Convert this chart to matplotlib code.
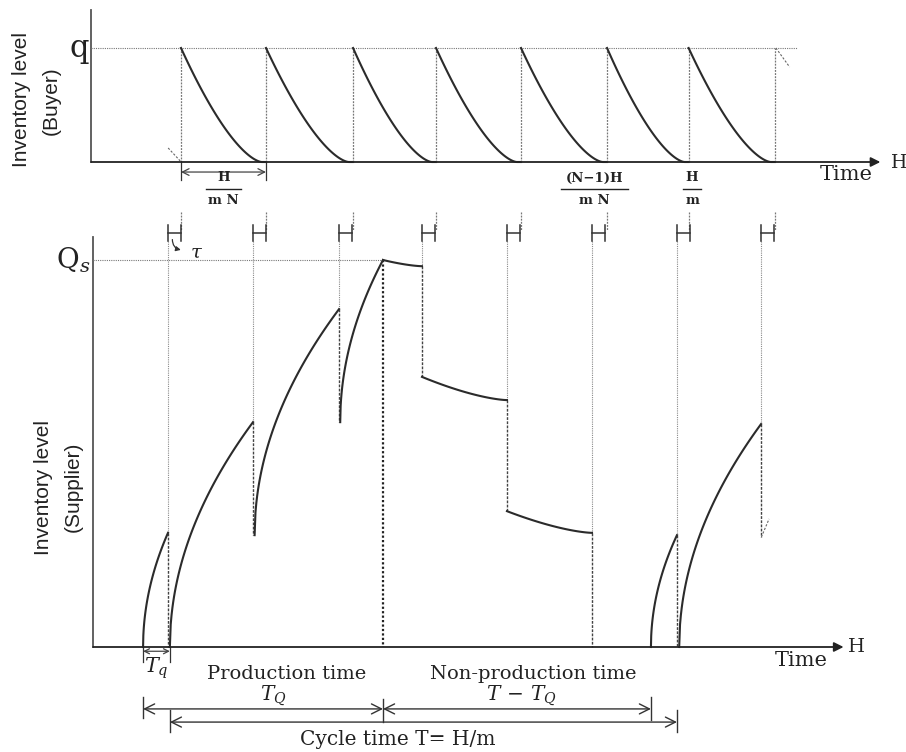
import matplotlib.pyplot as plt
import numpy as np

plt.rcParams['mathtext.fontset'] = 'dejavuserif'

# time axis in units of one buyer cycle H/(mN); levels normalised (q = 1, Qs = 1)
buyer_starts = [1.0, 1.993, 3.010, 3.979, 4.972, 5.977, 6.93, 7.939]
supplier_deliv = [0.848, 1.841, 2.846, 3.815, 4.808, 5.801, 6.794, 7.776]
drop_from = [0.295, 0.581, 0.873, 0.984, 0.638, 0.295, 0.289, 0.576]
drop_to = [0.0, 0.289, 0.581, 0.698, 0.351, 0.0, 0.0, 0.284]

# production (rising) segments
prod_t0 = [0.557, 0.87, 1.86, 2.86, 6.49, 6.82]
prod_t1 = [0.848, 1.841, 2.846, 3.36, 6.794, 7.776]
prod_y0 = [0.0, 0.0, 0.289, 0.581, 0.0, 0.0]
prod_y1 = [0.295, 0.581, 0.873, 1.0, 0.289, 0.576]

# non-production (slowly falling) segments
hold_t0 = [3.36, 3.815, 4.808]
hold_t1 = [3.815, 4.808, 5.801]
hold_y0 = [1.0, 0.698, 0.351]
hold_y1 = [0.984, 0.638, 0.295]

prod_end = 3.36
tau = 0.15
q_line_end = 8.196

W, H = 906, 752
X0, XS = 95.4, 85.6  # pixel of t=0, pixels per time unit
xlim = (-X0 / XS, (W - X0) / XS)

fig = plt.figure(figsize=(W / 100, H / 100), dpi=100)
# top panel: level 0 at y=162px, q at y=48px
axt = fig.add_axes([0, 0, 1, 1])
axt.set_xlim(*xlim)
axt.set_ylim(-(H - 162) / 114, 162 / 114)
# bottom panel: level 0 at y=647px, Qs at y=260px
axb = fig.add_axes([0, 0, 1, 1])
axb.set_xlim(*xlim)
axb.set_ylim(-(H - 647) / 387, 647 / 387)
for a in (axt, axb):
    a.axis('off')
    a.patch.set_alpha(0)

cur = '#2b2b2b'
axc = '#555555'
dot = '#777777'
txt = '#222222'
serif = 'DejaVu Serif'

# ---------- top panel (buyer) ----------
axt.plot([-0.051, -0.051], [0, 1.333], color=axc, lw=1.3)
axt.annotate('', xy=(9.17, 0), xytext=(-0.051, 0),
             arrowprops=dict(arrowstyle='-|>', color=txt, lw=1.3,
                             mutation_scale=14, shrinkA=0, shrinkB=0))
axt.plot([-0.051, q_line_end], [1, 1], color=dot, lw=0.8, ls=(0, (1, 1)))

for k, s in enumerate(buyer_starts):
    axt.plot([s, s], [0, 1], color=dot, lw=0.9, ls=(0, (1.5, 1)))
    axt.plot([s, s], [-0.44, -0.60], color=dot, lw=0.9, ls=(0, (1.5, 1)))
    if k + 1 < len(buyer_starts):
        e = buyer_starts[k + 1]
        u = np.linspace(0, 1, 100)
        lvl = np.clip(1 - u / 0.95, 0, None) ** 1.55
        axt.plot(s + u * (e - s), lvl, color=cur, lw=1.5)

axt.plot([0.850, 0.991], [0.123, 0.009], color='#666666', lw=0.8, ls=(0, (2, 1.5)))
axt.plot([7.95, 8.11], [1.0, 0.833], color='#666666', lw=0.8, ls=(0, (2, 1.5)))

# H/(mN) dimension
b0, b1 = buyer_starts[0], buyer_starts[1]
axt.plot([b0, b0], [0, -0.16], color='#333333', lw=0.9)
axt.plot([b1, b1], [0, -0.16], color='#333333', lw=0.9)
axt.annotate('', xy=(b0, -0.088), xytext=(b1, -0.088),
             arrowprops=dict(arrowstyle='<->', color='#444444', lw=0.9,
                             mutation_scale=12, shrinkA=0, shrinkB=0))


def frac(ax, x, num, den, half):
    ax.text(x, -0.14, num, ha='center', va='center', fontsize=9.5,
            family=serif, fontweight='bold', color=txt)
    ax.plot([x - half, x + half], [-0.237, -0.237], color=txt, lw=1.0)
    ax.text(x, -0.335, den, ha='center', va='center', fontsize=9.5,
            family=serif, fontweight='bold', color=txt)


frac(axt, (b0 + b1) / 2, 'H', 'm N', 0.2)
frac(axt, 5.83, '(N\u22121)H', 'm N', 0.39)
frac(axt, 6.97, 'H', 'm', 0.1)

axt.text(-0.08, 1.0, 'q', ha='right', va='center', fontsize=22, family=serif,
         color=txt)
axt.text(9.08, -0.11, 'Time', ha='right', va='center', fontsize=15,
         family=serif, color=txt)
axt.text(9.3, -0.01, 'H', ha='left', va='center', fontsize=13.5,
         family=serif, color=txt)
axt.text(-0.86, 0.55, 'Inventory level', rotation=90, ha='center',
         va='center', fontsize=15, family='Liberation Sans', color=txt)
axt.text(-0.51, 0.54, '(Buyer)', rotation=90, ha='center',
         va='center', fontsize=15, family='Liberation Sans', color=txt)

# ---------- bottom panel (supplier) ----------
axb.plot([-0.028, -0.028], [0, 1.059], color=axc, lw=1.3)
axb.annotate('', xy=(8.74, 0), xytext=(-0.028, 0),
             arrowprops=dict(arrowstyle='-|>', color=txt, lw=1.3,
                             mutation_scale=14, shrinkA=0, shrinkB=0))
axb.plot([-0.028, prod_end], [1, 1], color=dot, lw=0.8, ls=(0, (1, 1)))

for d, f, t in zip(supplier_deliv, drop_from, drop_to):
    axb.plot([d, d], [1.05, f], color='#8a8a8a', lw=0.8, ls=(0, (1, 1)))
    axb.plot([d, d], [f, t], color='#444444', lw=1.0, ls=(0, (2, 1)))
    # tau bracket
    axb.plot([d, d + tau], [1.07, 1.07], color='#333333', lw=1.1)
    axb.plot([d, d], [1.05, 1.09], color='#333333', lw=1.1)
    axb.plot([d + tau, d + tau], [1.05, 1.09], color='#333333', lw=1.1)

axb.plot([prod_end, prod_end], [1, 0], color=txt, lw=1.6, ls=(0, (1, 1)))

for t0, t1, y0, y1 in zip(prod_t0, prod_t1, prod_y0, prod_y1):
    u = np.linspace(0, 1, 100)
    axb.plot(t0 + u * (t1 - t0), y0 + (y1 - y0) * np.sqrt(u),
             color=cur, lw=1.5)
for t0, t1, y0, y1 in zip(hold_t0, hold_t1, hold_y0, hold_y1):
    u = np.linspace(0, 1, 100)
    axb.plot(t0 + u * (t1 - t0), y0 + (y1 - y0) * (1 - (1 - u) ** 1.5),
             color=cur, lw=1.5)

axb.plot([7.78, 7.87], [0.284, 0.331], color='#666666', lw=0.8, ls=(0, (2, 1.5)))

# tau label
axb.annotate('', xy=(1.03, 1.025), xytext=(0.9, 1.06),
             arrowprops=dict(arrowstyle='-|>', color='#333333', lw=0.9,
                             mutation_scale=7, connectionstyle='arc3,rad=0.5'))
axb.text(1.1, 1.02, r'$\tau$', ha='left', va='center', fontsize=14,
         color=txt)

axb.text(-0.06, 1.0, r'$\mathrm{Q}_{s}$', ha='right', va='center', fontsize=20,
         color=txt)
axb.text(8.56, -0.035, 'Time', ha='right', va='center', fontsize=15,
         family=serif, color=txt)
axb.text(8.79, 0.0, 'H', ha='left', va='center', fontsize=14,
         family=serif, color=txt)
axb.text(-0.61, 0.413, 'Inventory level', rotation=90, ha='center',
         va='center', fontsize=15, family='Liberation Sans', color=txt)
axb.text(-0.26, 0.413, '(Supplier)', rotation=90, ha='center',
         va='center', fontsize=15, family='Liberation Sans', color=txt)

# T_q dimension
p0 = prod_t0[0]
axb.plot([p0, p0], [0, -0.04], color='#333333', lw=0.9)
axb.plot([prod_t0[1], prod_t0[1]], [0, -0.04], color='#333333', lw=0.9)
axb.annotate('', xy=(p0, -0.011), xytext=(prod_t0[1], -0.011),
             arrowprops=dict(arrowstyle='<->', color='#444444', lw=0.9,
                             mutation_scale=9, shrinkA=0, shrinkB=0))
axb.text((p0 + prod_t0[1]) / 2, -0.055, r'$T_q$', ha='center', va='center',
         fontsize=15, color=txt)

# production / non-production / cycle dimensions
nxt = prod_t0[4]
for x, y0, y1 in [(p0, -0.128, -0.184), (prod_end, -0.134, -0.194),
                  (nxt, -0.130, -0.188), (prod_t0[1], -0.163, -0.220),
                  (supplier_deliv[6], -0.163, -0.220)]:
    axb.plot([x, x], [y0, y1], color='#333333', lw=1.0)

arr = dict(arrowstyle='<->', color='#333333', lw=1.0, mutation_scale=18,
           shrinkA=0, shrinkB=0)
axb.annotate('', xy=(p0, -0.160), xytext=(prod_end, -0.160), arrowprops=arr)
axb.annotate('', xy=(prod_end, -0.160), xytext=(nxt, -0.160), arrowprops=arr)
axb.annotate('', xy=(prod_t0[1], -0.194), xytext=(supplier_deliv[6], -0.194),
             arrowprops=arr)

axb.text(2.23, -0.071, 'Production time', ha='center', va='center',
         fontsize=14, family=serif, color=txt)
axb.text(2.08, -0.126, r'$T_Q$', ha='center', va='center', fontsize=14.5,
         color=txt)
axb.text(5.12, -0.071, 'Non-production time', ha='center', va='center',
         fontsize=14, family=serif, color=txt)
axb.text(4.98, -0.126, r'$T\,-\,T_Q$', ha='center', va='center', fontsize=14.5,
         color=txt)
axb.text(3.53, -0.240, 'Cycle time T= H/m', ha='center', va='center',
         fontsize=14.5, family=serif, color=txt)

fig.savefig('out.png', dpi=100, facecolor='white')
